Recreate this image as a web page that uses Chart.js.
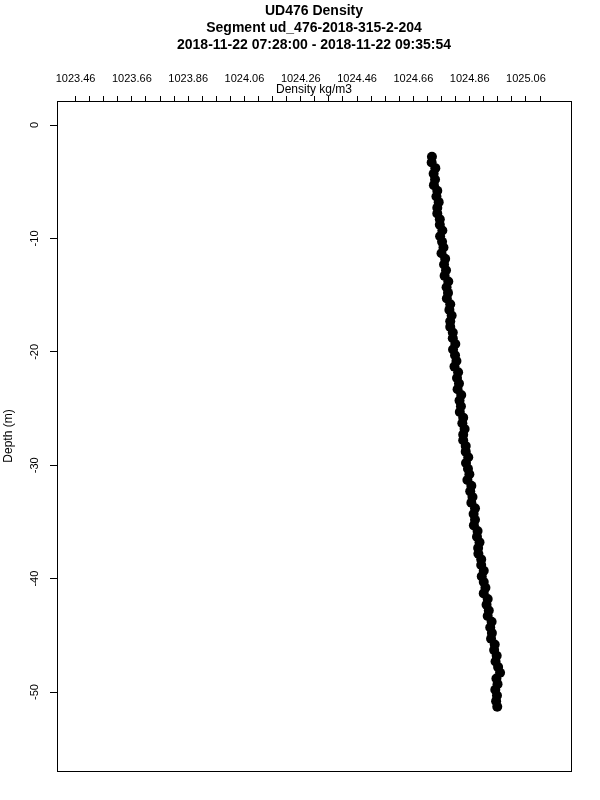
<!DOCTYPE html>
<html>
<head>
<meta charset="utf-8">
<title>UD476 Density</title>
<script src="https://cdn.jsdelivr.net/npm/chart.js@4.4.1/dist/chart.umd.min.js"></script>
<style>
  html, body { margin: 0; padding: 0; background: #ffffff; }
</style>
</head>
<body>
<canvas id="density" width="600" height="800"></canvas>
<script>
const canvas = document.getElementById("density");

//Titles of the plot
const titleLines = [
    "UD476 Density",
    "Segment ud_476-2018-315-2-204",
    "2018-11-22 07:28:00 - 2018-11-22 09:35:54",
];
const xTitle = "Density kg/m3";
const yTitle = "Depth (m)";

//Labelled ticks on the top axis
const densityTicks = [1023.46, 1023.66, 1023.86, 1024.06, 1024.26, 1024.46, 1024.66, 1024.86, 1025.06];
//Labelled ticks on the left axis
const depthTicks = [0, -10, -20, -30, -40, -50];

//Depth of each sample (m)
const depth = [
    -2.8, -3.3, -3.8, -4.3, -4.8, -5.3, -5.8, -6.3, -6.8, -7.3,
    -7.8, -8.3, -8.8, -9.3, -9.8, -10.3, -10.8, -11.3, -11.8, -12.3,
    -12.8, -13.3, -13.8, -14.3, -14.8, -15.3, -15.8, -16.3, -16.8, -17.3,
    -17.8, -18.3, -18.8, -19.3, -19.8, -20.3, -20.8, -21.3, -21.8, -22.3,
    -22.8, -23.3, -23.8, -24.3, -24.8, -25.3, -25.8, -26.3, -26.8, -27.3,
    -27.8, -28.3, -28.8, -29.3, -29.8, -30.3, -30.8, -31.3, -31.8, -32.3,
    -32.8, -33.3, -33.8, -34.3, -34.8, -35.3, -35.8, -36.3, -36.8, -37.3,
    -37.8, -38.3, -38.8, -39.3, -39.8, -40.3, -40.8, -41.3, -41.8, -42.3,
    -42.8, -43.3, -43.8, -44.3, -44.8, -45.3, -45.8, -46.3, -46.8, -47.3,
    -47.8, -48.3, -48.8, -49.3, -49.8, -50.3, -50.8, -51.3,
];
//Density of each sample (kg/m3)
const density = [
    1024.726, 1024.725, 1024.738, 1024.732, 1024.737, 1024.733, 1024.745, 1024.742, 1024.750, 1024.745,
    1024.745, 1024.754, 1024.754, 1024.763, 1024.755, 1024.762, 1024.767, 1024.760, 1024.773, 1024.769,
    1024.776, 1024.771, 1024.784, 1024.778, 1024.783, 1024.779, 1024.791, 1024.788, 1024.796, 1024.791,
    1024.791, 1024.800, 1024.800, 1024.809, 1024.801, 1024.808, 1024.813, 1024.806, 1024.819, 1024.815,
    1024.822, 1024.817, 1024.830, 1024.824, 1024.829, 1024.825, 1024.837, 1024.834, 1024.842, 1024.837,
    1024.837, 1024.846, 1024.846, 1024.855, 1024.847, 1024.854, 1024.859, 1024.852, 1024.866, 1024.862,
    1024.870, 1024.866, 1024.879, 1024.874, 1024.879, 1024.875, 1024.888, 1024.886, 1024.895, 1024.890,
    1024.891, 1024.901, 1024.901, 1024.910, 1024.903, 1024.910, 1024.916, 1024.910, 1024.924, 1024.920,
    1024.928, 1024.924, 1024.938, 1024.933, 1024.939, 1024.936, 1024.949, 1024.947, 1024.956, 1024.952,
    1024.961, 1024.968, 1024.955, 1024.959, 1024.951, 1024.957, 1024.954, 1024.958,
];

//Build point list for the scatter
const points = depth.map((d, i) => ({ x: density[i], y: d }));

Chart.defaults.font.family = "'Liberation Sans', Arial, sans-serif";
Chart.defaults.color = "#000000";

//Draws the box round the plot region
const frame = {
    id: "frame",
    afterDraw(chart) {
        const { ctx, chartArea: a } = chart;
        ctx.save();
        ctx.strokeStyle = "#000000";
        ctx.lineWidth = 1;
        ctx.strokeRect(a.left + 0.5, a.top + 0.5, a.right - a.left, a.bottom - a.top);
        ctx.restore();
    },
};

let myChart = new Chart(canvas, {
    type: "scatter",
    plugins: [frame],
    data: {
        datasets: [
            {
                data: points,
                backgroundColor: "#000000",
                borderWidth: 0,
                pointRadius: 5,
                pointHoverRadius: 5,
            },
        ],
    },
    options: {
        responsive: false,
        animation: false,
        layout: { padding: { left: 0, right: 29, top: 0, bottom: 29 } },
        plugins: {
            legend: { display: false },
            tooltip: { enabled: false },
            title: {
                display: true,
                fullSize: false,
                text: titleLines,
                color: "#000000",
                font: { size: 14, weight: "bold", lineHeight: 1.2 },
                padding: { top: 3, bottom: 6.6 },
            },
        },
        scales: {
            x: {
                type: "linear",
                position: "top",
                min: 1023.394,
                max: 1025.22,
                afterFit: (scale) => { scale.height = 41; },
                afterBuildTicks: (scale) => {
                    //minor ticks every 0.05 between the labelled ones
                    const first = densityTicks[0];
                    const ticks = [];
                    for (let k = 0; k <= 33; k++) {
                        ticks.push({ value: +(first + k * 0.05).toFixed(3) });
                    }
                    scale.ticks = ticks;
                },
                border: { display: false },
                grid: {
                    drawOnChartArea: false,
                    color: "#000000",
                    tickColor: "#000000",
                    tickLength: 7,
                    tickBorderDash: [5, 2],
                    tickBorderDashOffset: 5,
                },
                ticks: {
                    autoSkip: false,
                    maxRotation: 0,
                    minRotation: 0,
                    padding: 8,
                    font: { size: 11 },
                    callback: (value) => {
                        const hit = densityTicks.find((t) => Math.abs(t - value) < 1e-6);
                        return hit === undefined ? "" : hit.toFixed(2);
                    },
                },
                title: {
                    display: true,
                    text: xTitle,
                    font: { size: 12 },
                    padding: { top: 22.8, bottom: 0 },
                },
            },
            y: {
                type: "linear",
                position: "left",
                min: -56.96,
                max: 2.12,
                afterFit: (scale) => { scale.width = 57; },
                afterBuildTicks: (scale) => {
                    scale.ticks = depthTicks.map((v) => ({ value: v }));
                },
                border: { display: false },
                grid: {
                    drawOnChartArea: false,
                    color: "#000000",
                    tickColor: "#000000",
                    tickLength: 7,
                },
                ticks: {
                    autoSkip: false,
                    minRotation: 90,
                    maxRotation: 90,
                    crossAlign: "center",
                    padding: 7,
                    font: { size: 11 },
                    callback: (value) => String(value),
                },
                title: {
                    display: true,
                    text: yTitle,
                    font: { size: 12 },
                    padding: { top: 1.8, bottom: 0 },
                },
            },
        },
    },
});
</script>
</body>
</html>
